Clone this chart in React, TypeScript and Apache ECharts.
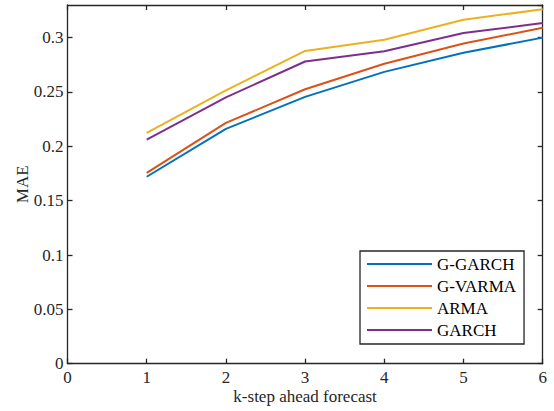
import React, { useEffect, useRef } from "react";
import * as echarts from "echarts";

const steps = [1, 2, 3, 4, 5, 6];
const seriesNames = ["G-GARCH", "G-VARMA", "ARMA", "GARCH"];
const gGarch = [0.172, 0.216, 0.2455, 0.2685, 0.286, 0.3];
const gVarma = [0.1755, 0.2215, 0.2525, 0.276, 0.2945, 0.309];
const arma = [0.2123, 0.2515, 0.2877, 0.298, 0.3165, 0.326];
const garch = [0.2062, 0.245, 0.278, 0.2874, 0.3042, 0.3134];
const colors = ["#0072BD", "#D95319", "#EDB120", "#7E2F8E"];

const FONT = "Liberation Serif";
const AXIS_COLOR = "#262626";

export default function App() {
  const ref = useRef<HTMLDivElement>(null);
  useEffect(() => {
    if (!ref.current) return;
    const chart = echarts.init(ref.current, undefined, { renderer: "svg" });
    const values = [gGarch, gVarma, arma, garch];
    const axisLine = { show: true, onZero: false, lineStyle: { color: AXIS_COLOR, width: 1.3 } };
    const axisTick = { show: true, inside: true, length: 5, lineStyle: { color: AXIS_COLOR, width: 1.3 } };
    chart.setOption({
      animation: false,
      backgroundColor: "#ffffff",
      grid: { left: 67.5, right: 11.3, top: 5, bottom: 47.3 },
      legend: {
        data: seriesNames,
        orient: "vertical",
        left: 360,
        top: 251,
        icon: "rect",
        itemWidth: 65,
        itemHeight: 2,
        itemGap: 0,
        padding: [2, 8, 3, 7],
        backgroundColor: "#ffffff",
        borderColor: AXIS_COLOR,
        borderWidth: 1.3,
        borderRadius: 0,
        textStyle: { fontFamily: FONT, fontSize: 17, color: "#000000", lineHeight: 22 },
      },
      xAxis: [
        {
          type: "value",
          min: 0,
          max: 6,
          interval: 1,
          position: "bottom",
          name: "k-step ahead forecast",
          nameLocation: "middle",
          nameGap: 24,
          nameMoveOverlap: false,
          nameTextStyle: { fontFamily: FONT, fontSize: 17, color: "#262626" },
          axisLine,
          axisTick,
          splitLine: { show: false },
          axisLabel: { fontFamily: FONT, fontSize: 17, color: "#262626", margin: 5 },
        },
        {
          type: "value",
          min: 0,
          max: 6,
          interval: 1,
          position: "top",
          axisLine,
          axisTick,
          splitLine: { show: false },
          axisLabel: { show: false },
        },
      ],
      yAxis: [
        {
          type: "value",
          min: 0,
          max: 0.33,
          interval: 0.05,
          position: "left",
          name: "MAE",
          nameLocation: "middle",
          nameGap: 37,
          nameMoveOverlap: false,
          nameTextStyle: { fontFamily: FONT, fontSize: 17, color: "#262626" },
          axisLine,
          axisTick,
          splitLine: { show: false },
          axisLabel: {
            fontFamily: FONT,
            fontSize: 17,
            color: "#262626",
            margin: 4,
            showMaxLabel: false,
            formatter: (v: number) => String(Math.round(v * 100) / 100),
          },
        },
        {
          type: "value",
          min: 0,
          max: 0.33,
          interval: 0.05,
          position: "right",
          axisLine,
          axisTick,
          splitLine: { show: false },
          axisLabel: { show: false },
        },
      ],
      series: seriesNames.map((name, i) => ({
        name,
        type: "line",
        xAxisIndex: 0,
        yAxisIndex: 0,
        showSymbol: false,
        symbol: "none",
        color: colors[i],
        lineStyle: { color: colors[i], width: 2 },
        data: steps.map((s, j) => [s, values[i][j]]),
      })),
    });
    return () => chart.dispose();
  }, []);
  return (
    <div
      ref={ref}
      style={{ position: "fixed", left: 0, top: 0, width: 554, height: 411 }}
    />
  );
}
